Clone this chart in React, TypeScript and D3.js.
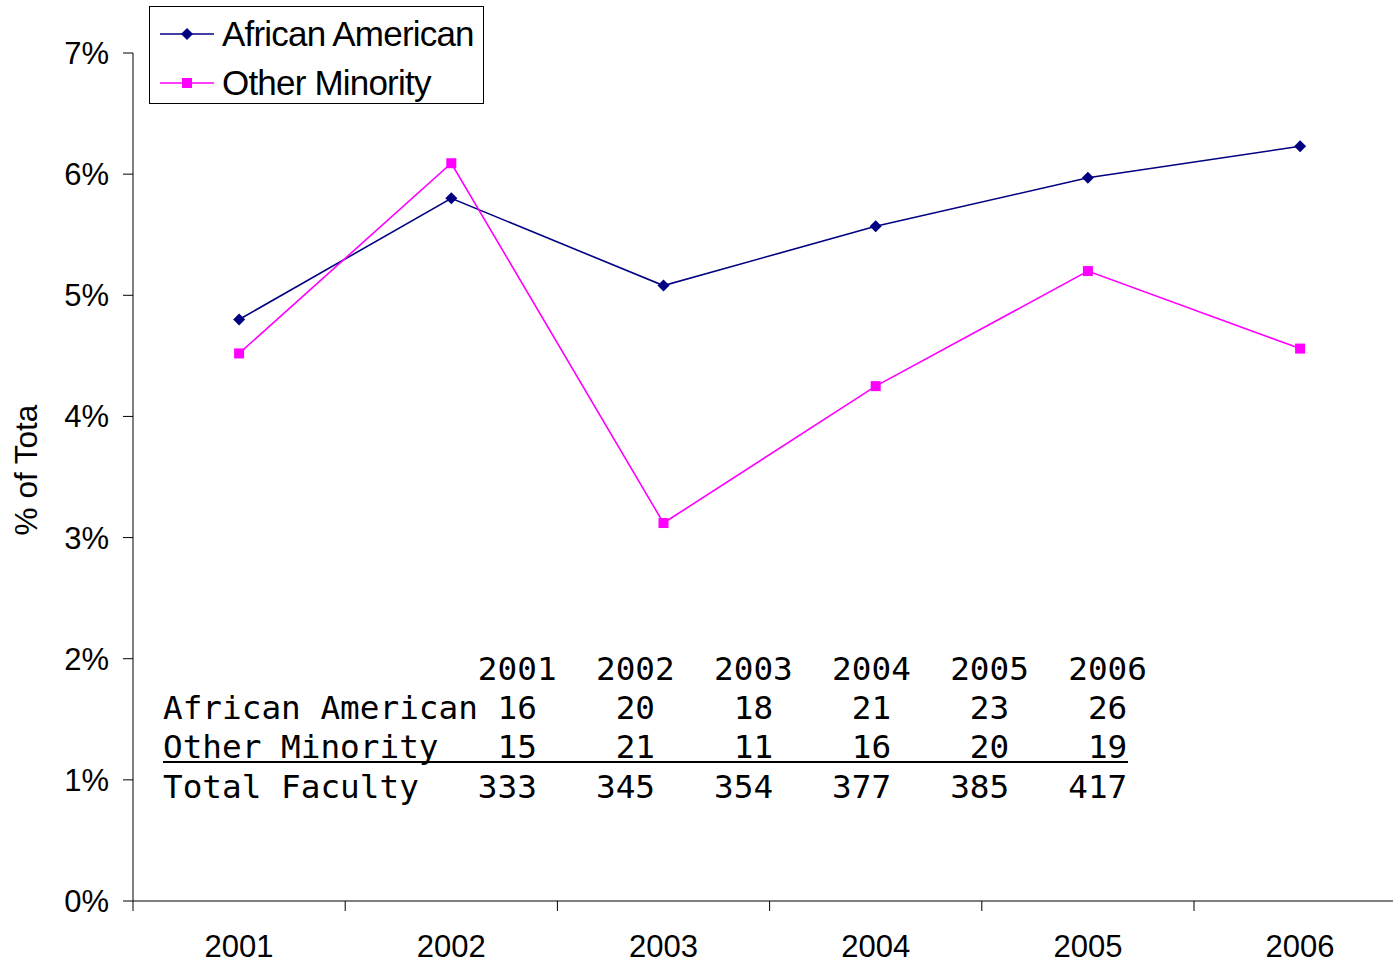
import React, { useRef, useEffect } from "react";
import * as d3 from "d3";

// chart data
const years = ["2001", "2002", "2003", "2004", "2005", "2006"];
const africanAmericanPct = [4.80, 5.80, 5.08, 5.57, 5.97, 6.23];
const otherMinorityPct = [4.52, 6.09, 3.12, 4.25, 5.20, 4.56];
const yTicks = [0, 1, 2, 3, 4, 5, 6, 7];

// table data
const africanAmericanCounts = [16, 20, 18, 21, 23, 26];
const otherMinorityCounts = [15, 21, 11, 16, 20, 19];
const totalFaculty = [333, 345, 354, 377, 385, 417];

const series = [
    { name: "African American", values: africanAmericanPct, color: "#000080", marker: "diamond" },
    { name: "Other Minority", values: otherMinorityPct, color: "#FF00FF", marker: "square" },
];

const W = 1393;
const H = 963;

export default function App() {
    const ref = useRef<SVGSVGElement>(null);

    useEffect(() => {
        if (!ref.current) return;
        const svg = d3.select(ref.current);
        svg.selectAll("*").remove();

        const x0 = 133;
        const bandW = (1194 - 133) / 5;
        const xScale = d3.scaleBand<string>().domain(years).range([x0, x0 + bandW * years.length]);
        const yScale = d3.scaleLinear().domain([0, 7]).range([901, 53]);
        const cx = (y: string) => (xScale(y) as number) + xScale.bandwidth() / 2;
        const sans = "Liberation Sans, Arial, sans-serif";

        const g = svg.append("g");

        // y axis
        g.append("line")
            .attr("x1", x0).attr("x2", x0)
            .attr("y1", yScale(0)).attr("y2", yScale(7))
            .attr("stroke", "#000").attr("stroke-width", 1);
        yTicks.forEach(t => {
            g.append("line")
                .attr("x1", x0 - 10).attr("x2", x0)
                .attr("y1", yScale(t)).attr("y2", yScale(t))
                .attr("stroke", "#000");
            g.append("text")
                .attr("x", 109).attr("y", yScale(t) + 11)
                .attr("text-anchor", "end")
                .attr("font-family", sans)
                .attr("font-size", 31)
                .text(`${t}%`);
        });

        // x axis
        g.append("line")
            .attr("x1", x0).attr("x2", W)
            .attr("y1", yScale(0)).attr("y2", yScale(0))
            .attr("stroke", "#000");
        years.forEach(y => {
            const tx = (xScale(y) as number);
            g.append("line")
                .attr("x1", tx).attr("x2", tx)
                .attr("y1", yScale(0)).attr("y2", yScale(0) + 10)
                .attr("stroke", "#000");
            g.append("text")
                .attr("x", cx(y)).attr("y", 957)
                .attr("text-anchor", "middle")
                .attr("font-family", sans)
                .attr("font-size", 31)
                .text(y);
        });

        // axis title
        g.append("text")
            .attr("transform", `translate(37,${470}) rotate(-90)`)
            .attr("text-anchor", "middle")
            .attr("font-family", sans)
            .attr("font-size", 31.5)
            .text("% of Tota");

        // lines + markers
        const line = d3.line<number>()
            .x((_, i) => cx(years[i]))
            .y(d => yScale(d));

        const drawMarker = (sel: any, kind: string, x: number, y: number, color: string) => {
            if (kind === "diamond") {
                const s = 6;
                sel.append("path")
                    .attr("d", `M${x},${y - s}L${x + s},${y}L${x},${y + s}L${x - s},${y}Z`)
                    .attr("fill", color);
            } else {
                const s = 5;
                sel.append("rect")
                    .attr("x", x - s).attr("y", y - s)
                    .attr("width", 2 * s).attr("height", 2 * s)
                    .attr("fill", color);
            }
        };

        series.forEach(s => {
            const sg = g.append("g");
            sg.append("path")
                .attr("d", line(s.values))
                .attr("fill", "none")
                .attr("stroke", s.color)
                .attr("stroke-width", 1.6);
            s.values.forEach((v, i) => drawMarker(sg, s.marker, cx(years[i]), yScale(v), s.color));
        });

        // legend
        const lg = g.append("g");
        lg.append("rect")
            .attr("x", 149.5).attr("y", 6.5)
            .attr("width", 334).attr("height", 97)
            .attr("fill", "#fff").attr("stroke", "#000");
        series.forEach((s, i) => {
            const ly = 34 + i * 49;
            lg.append("line")
                .attr("x1", 160).attr("x2", 214)
                .attr("y1", ly).attr("y2", ly)
                .attr("stroke", s.color).attr("stroke-width", 1.6);
            drawMarker(lg, s.marker, 187, ly, s.color);
            lg.append("text")
                .attr("x", 222).attr("y", ly + 12)
                .attr("font-family", sans)
                .attr("font-size", 35)
                .attr("letter-spacing", -0.8)
                .text(s.name);
        });

        // data table in monospace
        const pad = (v: string | number, n: number) => String(v).padStart(n, " ");
        const headerRow = " ".repeat(16) + years.map((y, i) => (i === 0 ? y : pad(y, 6))).join("");
        const aaRow = "African American" + pad(africanAmericanCounts[0], 3) + africanAmericanCounts.slice(1).map(v => pad(v, 6)).join("");
        const omRow = "Other Minority  " + pad(otherMinorityCounts[0], 3) + otherMinorityCounts.slice(1).map(v => pad(v, 6)).join("");
        const tfRow = "Total Faculty   " + pad(totalFaculty[0], 3) + totalFaculty.slice(1).map(v => pad(v, 6)).join("");
        const rows = [headerRow, aaRow, omRow, tfRow];
        const baselines = [680, 719, 758, 798];

        rows.forEach((r, i) => {
            g.append("text")
                .attr("x", 163).attr("y", baselines[i])
                .attr("xml:space", "preserve")
                .style("white-space", "pre")
                .attr("font-family", "DejaVu Sans Mono, monospace")
                .attr("font-size", 32.7)
                .text(r);
        });
        g.append("line")
            .attr("x1", 163).attr("x2", 1128)
            .attr("y1", 762).attr("y2", 762)
            .attr("stroke", "#000").attr("stroke-width", 2);
    }, []);

    return (
        <div style={{ position: "absolute", left: 0, top: 0 }}>
            <svg ref={ref} width={W} height={H} style={{ display: "block", background: "#fff" }} />
        </div>
    );
}
